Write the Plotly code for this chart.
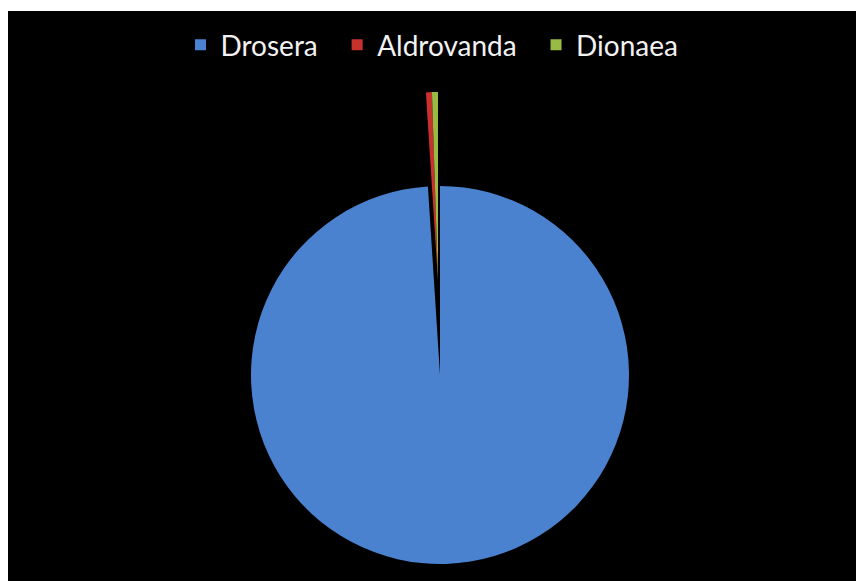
import plotly.graph_objects as go

labels = ["Drosera", "Aldrovanda", "Dionaea"]
values = [194, 1, 1]
colors = ["#4a82d0", "#c8322d", "#98bb45"]

W, H = 858, 581
ML, MR, MT, MB = 8, 2, 11, 0
PW, PH = W - ML - MR, H - MT - MB


def dom(cx, cy, r):
    x0 = (cx - r - ML) / PW
    x1 = (cx + r - ML) / PW
    y0 = (H - MB - (cy + r)) / PH
    y1 = (H - MB - (cy - r)) / PH
    return dict(x=[x0, x1], y=[y0, y1])


clear = "rgba(0,0,0,0)"
fig = go.Figure()
# main pie: Drosera drawn, small slices left as a gap
fig.add_trace(go.Pie(
    labels=labels, values=values, sort=False, direction="clockwise", rotation=0,
    marker=dict(colors=[colors[0], clear, clear], line=dict(width=0)),
    textinfo="none", hoverinfo="label+value", showlegend=False,
    domain=dom(440, 375, 189),
))
# exploded small slices
fig.add_trace(go.Pie(
    labels=labels, values=values, sort=False, direction="clockwise", rotation=0,
    marker=dict(colors=[clear, colors[1], colors[2]], line=dict(width=0)),
    textinfo="none", hoverinfo="label+value", showlegend=False,
    domain=dom(438, 281, 189),
))
# legend entries
pad = "\u00a0\u00a0"
for i, (lab, col) in enumerate(zip(labels, colors)):
    fig.add_trace(go.Scatter(
        x=[None], y=[None], mode="markers",
        name=lab + (pad if i < len(labels) - 1 else ""),
        marker=dict(symbol="square", size=11, color=col),
        showlegend=True,
    ))

fig.update_layout(
    width=W, height=H,
    margin=dict(l=ML, r=MR, t=MT, b=MB),
    paper_bgcolor="black", plot_bgcolor=clear,
    xaxis=dict(visible=False), yaxis=dict(visible=False),
    legend=dict(orientation="h", x=0.5, xanchor="center",
                y=1 - (45 - MT) / PH, yanchor="middle",
                font=dict(family="Lato, Open Sans, sans-serif", size=28, color="#f2f2f2"),
                bgcolor=clear),
    shapes=[
        dict(type="rect", xref="paper", yref="paper", layer="above",
             x0=-ML / PW - 0.01, x1=1 + MR / PW + 0.01, y0=1, y1=1 + MT / PH + 0.01,
             fillcolor="white", line=dict(width=0)),
        dict(type="rect", xref="paper", yref="paper", layer="above",
             x0=-ML / PW - 0.01, x1=0, y0=-0.01, y1=1.05,
             fillcolor="white", line=dict(width=0)),
        dict(type="rect", xref="paper", yref="paper", layer="above",
             x0=1, x1=1 + MR / PW + 0.01, y0=-0.01, y1=1.05,
             fillcolor="white", line=dict(width=0)),
    ],
)

fig.write_html("out.html")
